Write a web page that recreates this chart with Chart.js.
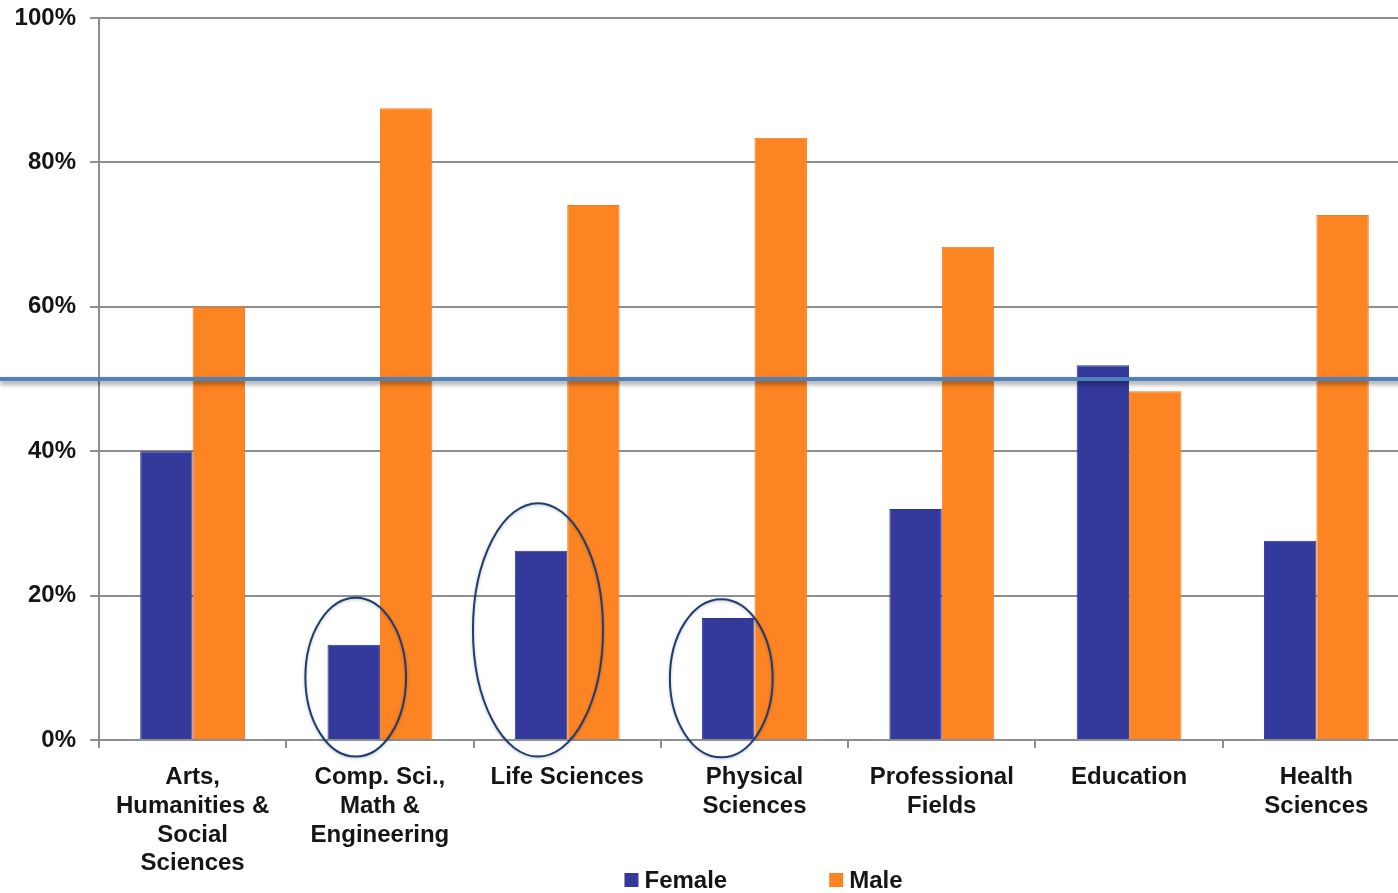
<!DOCTYPE html>
<html><head><meta charset="utf-8">
<script src="https://cdn.jsdelivr.net/npm/chart.js@4/dist/chart.umd.min.js"></script>
<style>
html,body{margin:0;padding:0;overflow:hidden;background:#fff}
#wrap{position:absolute;left:0;top:0;width:1410px;height:893px}
</style>
</head><body><div id="wrap"><canvas id="c" width="1410" height="893"></canvas></div>
<script>
// ---- data ----
const categories = [
  ["Arts,", "Humanities &", "Social", "Sciences"],
  ["Comp. Sci.,", "Math &", "Engineering"],
  ["Life Sciences"],
  ["Physical", "Sciences"],
  ["Professional", "Fields"],
  ["Education"],
  ["Health", "Sciences"]
];
const seriesNames = ["Female", "Male"];
const femaleValues = [40.0, 13.2, 26.2, 16.9, 32.0, 51.9, 27.6];
const maleValues   = [60.0, 87.5, 74.1, 83.4, 68.3, 48.3, 72.7];
const yTickValues = [0, 20, 40, 60, 80, 100];
const referenceLineValue = 50;
// highlighted (circled) female bars: category index, value extent of ellipse
const highlightIndex  = [1, 2, 3];
const highlightTop    = [19.7, 32.8, 19.5];
const highlightBottom = [-2.3, -2.3, -2.4];

// ---- styles ----
const FONT = "'Liberation Sans', Arial, sans-serif";
const TEXT = '#151515';
const GRID = '#8e8e8e';
Chart.defaults.font.family = FONT;

const ellipseStyle = { widthFactor: [0.96, 1.24, 0.98], dx: [2, -3, -7], color: '#1f3d70', lineWidth: 2 };

const annotationPlugin = {
  id: 'annotations',
  afterDatasetsDraw(chart) {
    const ctx = chart.ctx, y = chart.scales.y;
    const meta = chart.getDatasetMeta(0);
    ctx.save();
    ctx.strokeStyle = ellipseStyle.color;
    ctx.lineWidth = ellipseStyle.lineWidth;
    ctx.shadowColor = 'rgba(0,0,0,0.25)';
    ctx.shadowBlur = 3; ctx.shadowOffsetY = 1;
    highlightIndex.forEach((ci, k) => {
      const bar = meta.data[ci];
      const top = y.getPixelForValue(highlightTop[k]);
      const bot = y.getPixelForValue(highlightBottom[k]);
      const cx = bar.x + ellipseStyle.dx[k];
      const cy = (top + bot) / 2;
      const rx = bar.width * ellipseStyle.widthFactor[k];
      const ry = (bot - top) / 2;
      ctx.beginPath();
      ctx.ellipse(cx, cy, rx, ry, 0, 0, Math.PI * 2);
      ctx.stroke();
    });
    ctx.restore();
    const ly = y.getPixelForValue(referenceLineValue);
    ctx.save();
    ctx.strokeStyle = '#4f81bd';
    ctx.lineWidth = 4;
    ctx.shadowColor = 'rgba(0,0,0,0.45)';
    ctx.shadowBlur = 5; ctx.shadowOffsetY = 3;
    ctx.beginPath();
    ctx.moveTo(0, ly); ctx.lineTo(chart.width, ly);
    ctx.stroke();
    ctx.restore();
  },
  afterDraw(chart) {
    const ctx = chart.ctx, ca = chart.chartArea;
    ctx.save();
    ctx.font = "bold 24px " + FONT;
    ctx.textBaseline = 'middle';
    const box = 14, gapText = 6, gapItem = 102, yc = 881;
    const items = chart.data.datasets.map(d => ({ label: d.label, color: d.backgroundColor, w: box + gapText + ctx.measureText(d.label).width }));
    const total = items.reduce((s, it) => s + it.w, 0) + gapItem * (items.length - 1);
    let x = (ca.left + ca.right) / 2 + 9 - total / 2;
    items.forEach(it => {
      ctx.fillStyle = it.color;
      ctx.fillRect(x, yc - box / 2 - 1, box, box);
      ctx.fillStyle = TEXT;
      ctx.fillText(it.label, x + box + gapText, yc);
      x += it.w + gapItem;
    });
    ctx.restore();
  }
};

new Chart(document.getElementById('c'), {
  type: 'bar',
  data: {
    labels: categories,
    datasets: [
      { label: seriesNames[0], data: femaleValues, backgroundColor: '#343a9c', borderColor: '#2f3592', borderWidth: 1 },
      { label: seriesNames[1], data: maleValues, backgroundColor: '#fd8422', borderColor: '#f77a18', borderWidth: 1 }
    ]
  },
  options: {
    responsive: false,
    animation: false,
    layout: { padding: { top: 18, left: 0, right: 0, bottom: 0 } },
    datasets: { bar: { categoryPercentage: 0.56, barPercentage: 1.0 } },
    plugins: { legend: { display: false }, tooltip: { enabled: false } },
    scales: {
      x: {
        grid: { display: true, drawOnChartArea: false, drawTicks: true, tickLength: 8, color: GRID, lineWidth: 2, offset: true },
        border: { display: true, color: GRID, width: 2 },
        ticks: { color: TEXT, font: { size: 24, weight: 'bold', lineHeight: 1.2 }, padding: 15, maxRotation: 0, autoSkip: false },
        afterFit(scale) { scale.height = 153; scale.paddingLeft = 0; scale.paddingRight = 0; }
      },
      y: {
        min: 0, max: 100,
        afterBuildTicks(scale) { scale.ticks = yTickValues.map(v => ({ value: v })); },
        grid: { color: GRID, lineWidth: 2, tickLength: 9 },
        border: { display: true, color: GRID, width: 2 },
        ticks: { color: TEXT, font: { size: 24, weight: 'bold' }, padding: 14, callback: v => v + '%' },
        afterFit(scale) { scale.width = 99; scale.paddingTop = 0; scale.paddingBottom = 0; }
      }
    }
  },
  plugins: [annotationPlugin]
});
</script>
</body></html>
